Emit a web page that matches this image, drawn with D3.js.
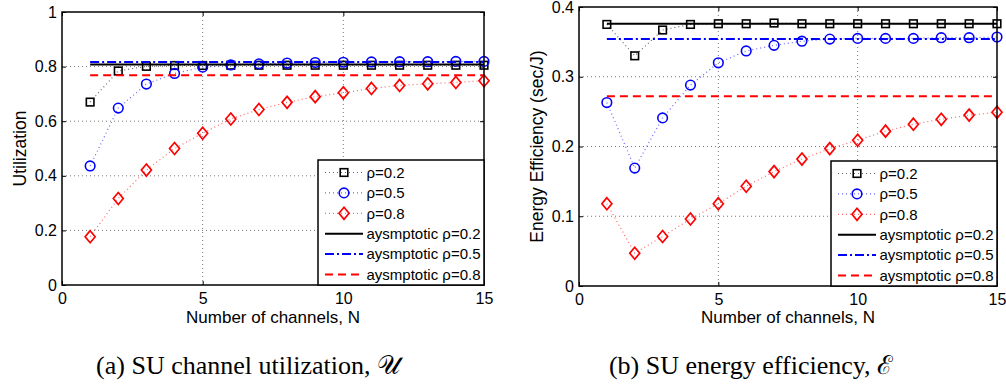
<!DOCTYPE html>
<html>
<head>
<meta charset="utf-8">
<script src="https://cdn.jsdelivr.net/npm/d3@7"></script>
<style>
	body { margin: 0; background: #fff; }
	svg { display: block; font-family: 'Liberation Sans', Arial, sans-serif; }
</style>
</head>
<body>
<svg id="fig" width="1006" height="392"></svg>
<script>
// values
const channels = [1, 2, 3, 4, 5, 6, 7, 8, 9, 10, 11, 12, 13, 14, 15]
const rhoLabels = ['ρ=0.2', 'ρ=0.5', 'ρ=0.8']
const asymLabels = ['aysmptotic ρ=0.2', 'aysmptotic ρ=0.5', 'aysmptotic ρ=0.8']

const utilRho02 = [0.670, 0.784, 0.801, 0.804, 0.804, 0.805, 0.805, 0.805, 0.805, 0.805, 0.805, 0.805, 0.805, 0.805, 0.805]
const utilRho05 = [0.436, 0.648, 0.736, 0.775, 0.798, 0.806, 0.810, 0.813, 0.815, 0.816, 0.817, 0.818, 0.818, 0.819, 0.819]
const utilRho08 = [0.177, 0.317, 0.421, 0.500, 0.556, 0.608, 0.643, 0.669, 0.690, 0.704, 0.720, 0.731, 0.737, 0.742, 0.748]
const utilAsym = [0.808, 0.817, 0.768]

const effRho02 = [0.375, 0.330, 0.367, 0.375, 0.376, 0.376, 0.377, 0.376, 0.376, 0.376, 0.376, 0.376, 0.376, 0.376, 0.376]
const effRho05 = [0.263, 0.169, 0.241, 0.288, 0.320, 0.337, 0.345, 0.351, 0.354, 0.355, 0.355, 0.355, 0.356, 0.356, 0.357]
const effRho08 = [0.118, 0.047, 0.071, 0.096, 0.118, 0.143, 0.164, 0.182, 0.197, 0.209, 0.222, 0.232, 0.239, 0.245, 0.249]
const effAsym = [0.376, 0.354, 0.272]

const xTicks = [0, 5, 10, 15]
const utilTicks = [0, 0.2, 0.4, 0.6, 0.8, 1]
const effTicks = [0, 0.1, 0.2, 0.3, 0.4]

const colors = ['#000000', '#0000ff', '#ff0000']
const markers = ['square', 'circle', 'diamond']
const asymDash = [null, '9,3,2,3', '8,5']

const svg = d3.select('#fig')

function drawMarker(g, type, cx, cy, color) {
	if (type === 'square') {
		g.append('rect').attr('x', cx - 3.8).attr('y', cy - 3.8)
			.attr('width', 7.6).attr('height', 7.6)
			.attr('fill', 'none').attr('stroke', color).attr('stroke-width', 1.6)
	} else if (type === 'circle') {
		g.append('circle').attr('cx', cx).attr('cy', cy).attr('r', 4.8)
			.attr('fill', 'none').attr('stroke', color).attr('stroke-width', 1.6)
	} else {
		g.append('path')
			.attr('d', `M${cx},${cy - 6}L${cx + 5},${cy}L${cx},${cy + 6}L${cx - 5},${cy}Z`)
			.attr('fill', 'none').attr('stroke', color).attr('stroke-width', 1.7)
	}
}

function panel(opts) {
	const { left, right, top, bottom, yMax, yTicks, series, asym, yLabel, caption, capX } = opts
	const x = d3.scaleLinear().domain([0, 15]).range([left, right])
	const y = d3.scaleLinear().domain([0, yMax]).range([bottom, top])
	const g = svg.append('g')

	// dotted grid
	g.append('g').selectAll('line').data(xTicks.slice(1, -1)).enter().append('line')
		.attr('x1', d => x(d)).attr('x2', d => x(d)).attr('y1', top).attr('y2', bottom)
		.attr('stroke', '#777').attr('stroke-width', 1).attr('stroke-dasharray', '1,3')
	g.append('g').selectAll('line').data(yTicks.slice(1, -1)).enter().append('line')
		.attr('x1', left).attr('x2', right).attr('y1', d => y(d)).attr('y2', d => y(d))
		.attr('stroke', '#777').attr('stroke-width', 1).attr('stroke-dasharray', '1,3')

	// axes with inward ticks
	const axB = g.append('g').attr('transform', `translate(0,${bottom})`)
		.call(d3.axisBottom(x).tickValues(xTicks).tickSize(-4).tickPadding(8))
	const axT = g.append('g').attr('transform', `translate(0,${top})`)
		.call(d3.axisTop(x).tickValues(xTicks).tickSize(-4).tickFormat(''))
	const axL = g.append('g').attr('transform', `translate(${left},0)`)
		.call(d3.axisLeft(y).tickValues(yTicks).tickSize(-4).tickPadding(5).tickFormat(d => d3.format('')(+d.toFixed(1))))
	const axR = g.append('g').attr('transform', `translate(${right},0)`)
		.call(d3.axisRight(y).tickValues(yTicks).tickSize(-4).tickFormat(''))
	;[axB, axT, axL, axR].forEach(a => {
		a.select('.domain').remove()
		a.selectAll('line').attr('stroke', '#000').attr('stroke-width', 1)
		a.selectAll('text').attr('font-size', 16).attr('fill', '#000')
			.attr('font-family', "'Liberation Sans', Arial, sans-serif")
	})

	// data series: dotted line plus markers
	series.forEach((vals, i) => {
		const line = d3.line().x((d, k) => x(channels[k])).y(d => y(d))
		g.append('path').attr('d', line(vals)).attr('fill', 'none')
			.attr('stroke', colors[i]).attr('stroke-opacity', 0.6)
			.attr('stroke-width', 1.2).attr('stroke-dasharray', '1,3')
		vals.forEach((v, k) => drawMarker(g, markers[i], x(channels[k]), y(v), colors[i]))
	})

	// asymptotic lines
	asym.forEach((v, i) => {
		g.append('line').attr('x1', x(channels[0])).attr('x2', x(channels[channels.length - 1]))
			.attr('y1', y(v)).attr('y2', y(v))
			.attr('stroke', colors[i]).attr('stroke-width', 2)
			.attr('stroke-dasharray', asymDash[i])
	})

	// box
	g.append('rect').attr('x', left).attr('y', top)
		.attr('width', right - left).attr('height', bottom - top)
		.attr('fill', 'none').attr('stroke', '#000').attr('stroke-width', 1.5)

	// axis labels
	g.append('text').attr('x', (left + right) / 2).attr('y', 323)
		.attr('text-anchor', 'middle').attr('font-size', 17).text('Number of channels, N')
	g.append('text').attr('transform', `translate(${left - 36},${(top + bottom) / 2}) rotate(-90)`)
		.attr('text-anchor', 'middle').attr('font-size', 17.5).text(yLabel)

	// legend
	const lx = right - 166, ly = bottom - 125
	const lg = g.append('g').attr('transform', `translate(${lx},${ly})`)
	lg.append('rect').attr('width', 166).attr('height', 125)
		.attr('fill', '#fff').attr('stroke', '#000').attr('stroke-width', 1.5)
	const rows = rhoLabels.concat(asymLabels)
	rows.forEach((label, r) => {
		const ry = 12.5 + r * 20.4
		const i = r % 3
		if (r < 3) {
			lg.append('line').attr('x1', 7).attr('x2', 45).attr('y1', ry).attr('y2', ry)
				.attr('stroke', colors[i]).attr('stroke-opacity', 0.6)
				.attr('stroke-width', 1.2).attr('stroke-dasharray', '1,3')
			drawMarker(lg, markers[i], 26, ry, colors[i])
		} else {
			lg.append('line').attr('x1', 7).attr('x2', 45).attr('y1', ry).attr('y2', ry)
				.attr('stroke', colors[i]).attr('stroke-width', 2)
				.attr('stroke-dasharray', asymDash[i])
		}
		lg.append('text').attr('x', 48.5).attr('y', ry).attr('dy', '0.35em')
			.attr('font-size', 15).text(label)
	})

	// caption
	svg.append('text').attr('x', capX).attr('y', 374).attr('text-anchor', 'middle')
		.attr('font-family', "'Liberation Serif', 'Times New Roman', serif")
		.attr('font-size', 26).text(caption)
}

panel({
	left: 62, right: 484, top: 12, bottom: 285, yMax: 1, yTicks: utilTicks,
	series: [utilRho02, utilRho05, utilRho08], asym: utilAsym,
	yLabel: 'Utilization', caption: '(a) SU channel utilization, 𝒰', capX: 248
})

panel({
	left: 579, right: 997, top: 7, bottom: 286, yMax: 0.4, yTicks: effTicks,
	series: [effRho02, effRho05, effRho08], asym: effAsym,
	yLabel: 'Energy Efficiency (sec/J)', caption: '(b) SU energy efficiency, ℰ', capX: 751
})
</script>
</body>
</html>
